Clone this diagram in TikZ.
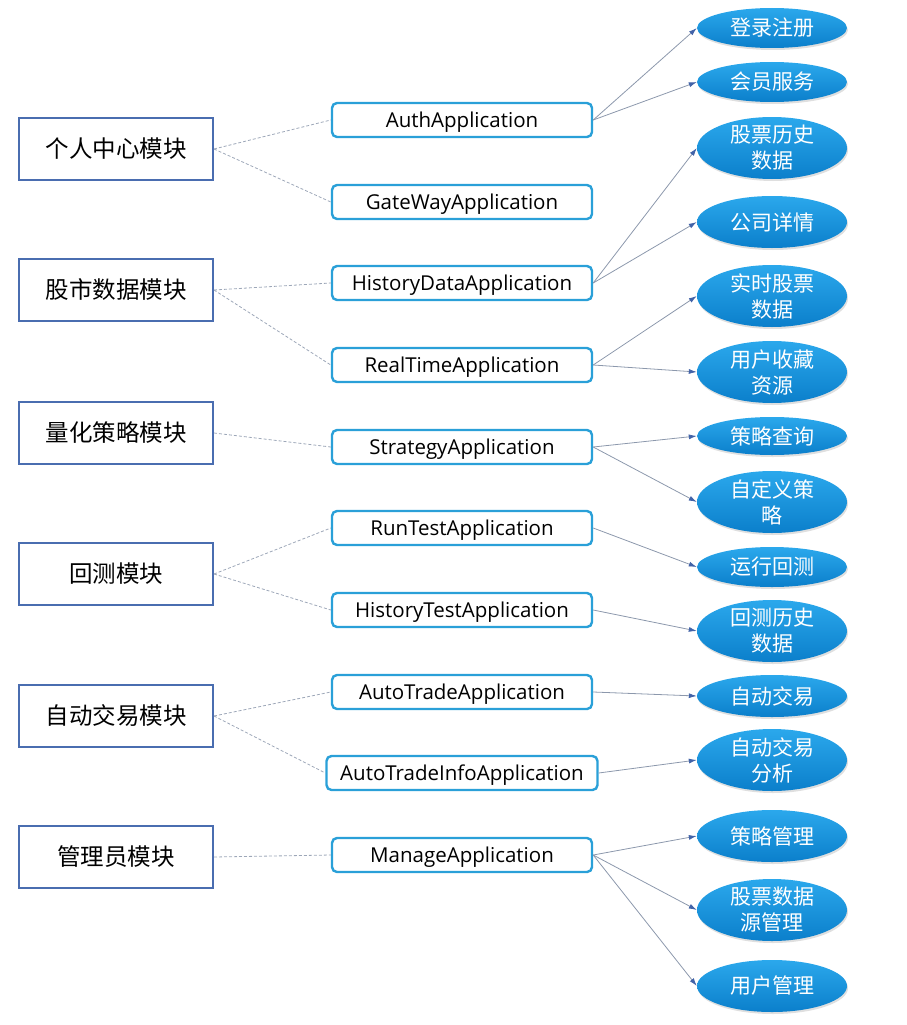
\documentclass[tikz,border=0pt]{standalone}
\usepackage{fontspec}
\setmainfont{Open Sans}
\newfontfamily\cjk{Noto Sans CJK SC}
\usetikzlibrary{shapes.geometric, arrows.meta, shadows}
\definecolor{boxblue}{HTML}{4A6DB0}
\definecolor{appblue}{HTML}{2AA0D8}
\definecolor{ovaltop}{HTML}{2BA8EC}
\definecolor{ovalbot}{HTML}{0B7FCB}
\definecolor{linkgray}{HTML}{8C98AC}
\definecolor{tipblue}{HTML}{4263A8}

\begin{document}
\begin{tikzpicture}[x=1pt, y=-1pt,
  module/.style={draw=boxblue, line width=2pt, minimum width=194pt, minimum height=62pt,
    font=\cjk\fontsize{23.5}{28}\selectfont},
  app/.style={draw=appblue, line width=2.4pt, rounded corners=5pt, fill=white,
    minimum width=260pt, minimum height=34pt, inner sep=0pt,
    text height=14.6pt, text depth=0pt,
    font=\fontsize{20.5}{24}\selectfont},
  func/.style={ellipse, top color=ovaltop, bottom color=ovalbot, text=white,
    minimum width=150pt, inner xsep=0pt, inner ysep=-3pt, align=center,
    font=\cjk\fontsize{21}{26}\selectfont,
    drop shadow={opacity=0.25, shadow xshift=1pt, shadow yshift=-2pt}},
  link/.style={draw=linkgray!85, line width=0.8pt, dash pattern=on 3pt off 2pt},
  flow/.style={draw=linkgray, line width=0.8pt, -{Latex[length=8pt, width=5pt, color=tipblue]}}]
  \useasboundingbox (0,0) rectangle (906,1025);

  % modules
  \node[module] (personal) at (116,149) {个人中心模块};
  \node[module] (market) at (116,290) {股市数据模块};
  \node[module] (quant) at (116,433) {量化策略模块};
  \node[module] (backtest) at (116,574) {回测模块};
  \node[module] (autotrade) at (116,716) {自动交易模块};
  \node[module] (admin) at (116,857) {管理员模块};

  % applications
  \node[app] (auth) at (462,120) {AuthApplication};
  \node[app] (gateway) at (462,202) {GateWayApplication};
  \node[app] (histdata) at (462,283) {HistoryDataApplication};
  \node[app] (realtime) at (462,365) {RealTimeApplication};
  \node[app] (strategy) at (462,447) {StrategyApplication};
  \node[app] (runtest) at (462,528) {RunTestApplication};
  \node[app] (histtest) at (462,610) {HistoryTestApplication};
  \node[app] (autoapp) at (462,692) {AutoTradeApplication};
  \node[app, minimum width=271pt] (autoinfo) at (462,773) {AutoTradeInfoApplication};
  \node[app] (manage) at (462,855) {ManageApplication};

  % functions
  \node[func, minimum height=40pt] (login) at (772,28) {登录注册};
  \node[func, minimum height=40pt] (member) at (772,82) {会员服务};
  \node[func, minimum height=62pt] (stockhist) at (772,148) {股票历史\\数据};
  \node[func, minimum height=52pt] (company) at (772,222) {公司详情};
  \node[func, minimum height=62pt] (stocklive) at (772,296) {实时股票\\数据};
  \node[func, minimum height=62pt] (favorite) at (772,372) {用户收藏\\资源};
  \node[func, minimum height=38pt] (query) at (772,436) {策略查询};
  \node[func, minimum height=62pt] (custom) at (772,502) {自定义策\\略};
  \node[func, minimum height=40pt] (runbt) at (772,567) {运行回测};
  \node[func, minimum height=62pt] (btdata) at (772,631) {回测历史\\数据};
  \node[func, minimum height=42pt] (trade) at (772,696) {自动交易};
  \node[func, minimum height=62pt] (analysis) at (772,760) {自动交易\\分析};
  \node[func, minimum height=52pt] (stratman) at (772,836) {策略管理};
  \node[func, minimum height=62pt] (sourceman) at (772,910) {股票数据\\源管理};
  \node[func, minimum height=52pt] (userman) at (772,986) {用户管理};

  % module -> application
  \draw[link] (personal.east) -- (auth.west);
  \draw[link] (personal.east) -- (gateway.west);
  \draw[link] (market.east) -- (histdata.west);
  \draw[link] (market.east) -- (realtime.west);
  \draw[link] (quant.east) -- (strategy.west);
  \draw[link] (backtest.east) -- (runtest.west);
  \draw[link] (backtest.east) -- (histtest.west);
  \draw[link] (autotrade.east) -- (autoapp.west);
  \draw[link] (autotrade.east) -- (autoinfo.west);
  \draw[link] (admin.east) -- (manage.west);

  % application -> function
  \draw[flow] (auth.east) -- (login.west);
  \draw[flow] (auth.east) -- (member.west);
  \draw[flow] (histdata.east) -- (stockhist.west);
  \draw[flow] (histdata.east) -- (company.west);
  \draw[flow] (realtime.east) -- (stocklive.west);
  \draw[flow] (realtime.east) -- (favorite.west);
  \draw[flow] (strategy.east) -- (query.west);
  \draw[flow] (strategy.east) -- (custom.west);
  \draw[flow] (runtest.east) -- (runbt.west);
  \draw[flow] (histtest.east) -- (btdata.west);
  \draw[flow] (autoapp.east) -- (trade.west);
  \draw[flow] (autoinfo.east) -- (analysis.west);
  \draw[flow] (manage.east) -- (stratman.west);
  \draw[flow] (manage.east) -- (sourceman.west);
  \draw[flow] (manage.east) -- (userman.west);
\end{tikzpicture}
\end{document}
